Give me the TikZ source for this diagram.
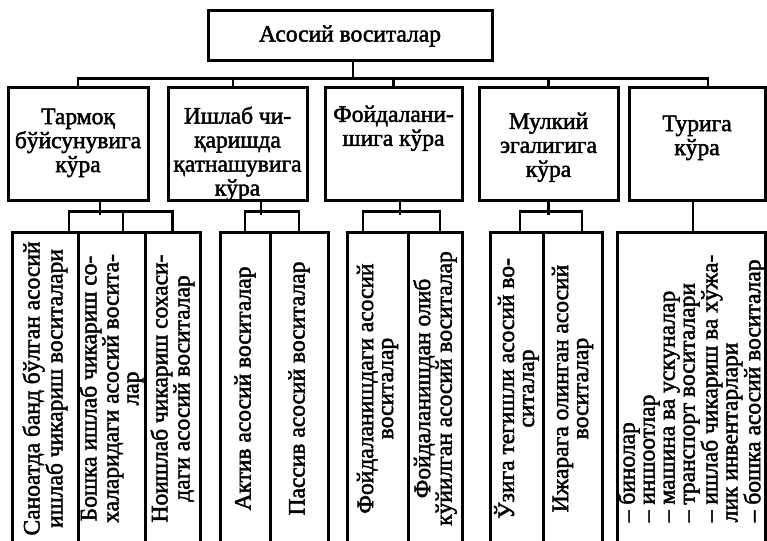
\documentclass[tikz,border=0pt]{standalone}
\usepackage{fontspec}
\setmainfont{Liberation Serif}[FakeBold=2]
\usepackage{tikz}
\usetikzlibrary{positioning}
\newcommand{\topfont}{\fontsize{23.5}{24}\selectfont}
\newcommand{\colfont}{\fontsize{23.5}{20}\selectfont}
\tikzset{
	rootbox/.style={draw, line width=3, minimum width=284, minimum height=50, inner sep=0, font=\topfont},
	catbox/.style={draw, line width=3, minimum height=112},
	cattext/.style={align=center, inner sep=0, anchor=north, font=\topfont},
	subbox/.style={draw, line width=3, rotate=90, minimum width=313, inner sep=0, align=center, font=\colfont},
	link/.style={line width=2.5}
}

\begin{document}
\begin{tikzpicture}[x=1pt, y=1pt]
	\useasboundingbox (0,0) rectangle (767,-540);
	\clip (0,0) rectangle (767,-540);
	% top
	\node[rootbox] (root) at (350,-36) {Асосий воситалар};
	% second row
	\node[catbox, minimum width=140] (tarmoq) at (78,-144) {};
	\node[catbox, minimum width=139] (ishlab) at (237.5,-144) {};
	\node[catbox, minimum width=137] (foyda) at (393.5,-144) {};
	\node[catbox, minimum width=139] (mulk) at (548.5,-144) {};
	\node[catbox, minimum width=136] (turi) at (697,-144) {};
	\node[cattext] (tarmoq-t) at ([yshift=-22]tarmoq.north) {Тармоқ\\бўйсунувига\\кўра};
	\node[cattext] (ishlab-t) at ([yshift=-20]ishlab.north) {Ишлаб чи-\\қаришда\\қатнашувига\\кўра};
	\node[cattext] (foyda-t) at ([yshift=-19]foyda.north) {Фойдалани-\\шига кўра};
	\node[cattext] (mulk-t) at ([yshift=-26]mulk.north) {Мулкий\\эгалигига\\кўра};
	\node[cattext] (turi-t) at ([yshift=-29]turi.north) {Турига\\кўра};
	\foreach \n/\dx in {tarmoq/0, ishlab/-4.5, foyda/0, mulk/0, turi/11}
		\draw[link] ([xshift=3]root.south) -- ++(0,-16) -| ([xshift=\dx]\n.north);
	% third row
	\node[subbox, minimum height=66] (s11) at (45,-388.5) {Саноатда банд бўлган асосий\\ишлаб чикариш воситалари};
	\node[subbox, minimum height=67] (s12) at (111.5,-388.5) {Бошка ишлаб чикариш со-\\халаридаги асосий восита-\\лар};
	\node[subbox, minimum height=55] (s13) at (172.5,-388.5) {Ноишлаб чикариш сохаси-\\даги асосий воситалар};
	\node[subbox, minimum height=50] (s21) at (245,-388.5) {Актив асосий воситалар};
	\node[subbox, minimum height=58] (s22) at (299,-388.5) {Пассив асосий воситалар};
	\node[subbox, minimum height=61] (s31) at (377.5,-388.5) {Фойдаланишдаги асосий\\воситалар};
	\node[subbox, minimum height=54] (s32) at (435,-388.5) {Фойдаланишдан олиб\\кўйилган асосий воситалар};
	\node[subbox, minimum height=53] (s41) at (516.5,-388.5) {Ўзига тегишли асосий во-\\ситалар};
	\node[subbox, minimum height=59] (s42) at (572.5,-388.5) {Ижарага олинган асосий\\воситалар};
	\node[subbox, minimum height=147, align=left] (s5) at (691.5,-388.5) {– бинолар\\– иншоотлар\\– машина ва ускуналар\\– транспорт воситалари\\– ишлаб чикариш ва хўжа-\\лик инвентарлари\\– бошка асосий воситалар};
	% links to third row
	\draw[link] ([xshift=22]tarmoq.south) -- ++(0,-13);
	\draw[link] ([xshift=24]s11.east) -- ++(0,19) -| (s13.east);
	\draw[link] ([xshift=11.5]s12.east) -- ++(0,19);
	\draw[link] ([xshift=23.5]ishlab.south) -- ++(0,-13);
	\draw[link] (s21.east) -- ++(0,19) -| (s22.east);
	\draw[link] ([xshift=6.5]foyda.south) -- ++(0,-13);
	\draw[link] ([xshift=-14.5]s31.east) -- ++(0,19) -| ([xshift=5]s32.east);
	\draw[link] (mulk.south) -- ++(0,-13);
	\draw[link] ([xshift=3.5]s41.east) -- ++(0,19) -| ([xshift=9.5]s42.east);
	\draw[link] ([xshift=-4]turi.south) -- ([xshift=1.5]s5.east);
\end{tikzpicture}
\end{document}
